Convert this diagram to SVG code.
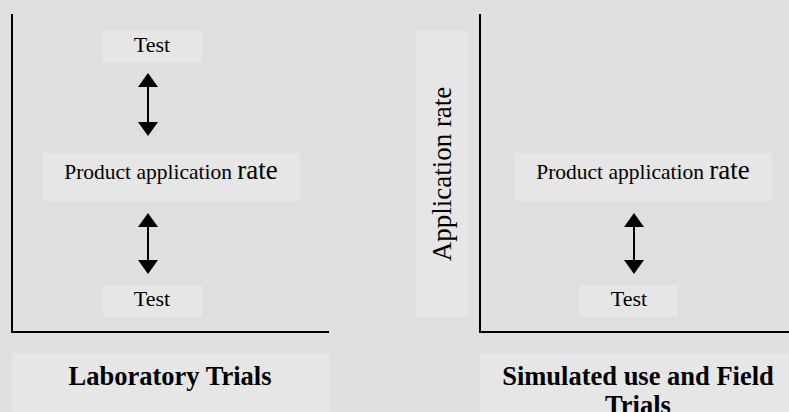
<svg xmlns="http://www.w3.org/2000/svg" width="789" height="412" viewBox="0 0 789 412">
<defs>
<style>
.bg{fill:#dfdfdf}
.box{fill:#e6e6e6}
.t{font-family:"Liberation Serif","Times New Roman",serif;fill:#000;text-anchor:middle}
.reg{font-size:22px}
.prod{font-size:21.5px}
.big{font-size:27px}
.bold{font-size:26.5px;font-weight:bold}
.axis{stroke:#000;stroke-width:2;fill:none}
.conn{stroke:#000;stroke-width:2}
</style>
</defs>
<rect class="bg" x="0" y="0" width="789" height="412"/>
<g id="axes">
<path class="axis" d="M12,14 V332 H329"/>
<path class="axis" d="M480,14 V332 H789"/>
</g>
<g id="left-test-top">
<rect class="box" x="103" y="31" width="99" height="32"/>
<text class="t reg" x="152" y="52">Test</text>
</g>
<g id="left-product">
<rect class="box" x="43" y="153" width="257" height="48"/>
<text class="t" x="171" y="179"><tspan class="prod">Product application </tspan><tspan class="big">rate</tspan></text>
</g>
<g id="left-test-bottom">
<rect class="box" x="103" y="285" width="99" height="32"/>
<text class="t reg" x="152" y="306">Test</text>
</g>
<g id="left-title">
<rect class="box" x="12" y="353" width="317" height="59"/>
<text class="t bold" x="170" y="385">Laboratory Trials</text>
</g>
<g id="y-label">
<rect class="box" x="416" y="31" width="52" height="286"/>
<text class="t" style="font-size:27px" transform="translate(451,174) rotate(-90)" x="0" y="0">Application rate</text>
</g>
<g id="right-product">
<rect class="box" x="514" y="153" width="258" height="48"/>
<text class="t" x="643" y="179"><tspan class="prod">Product application </tspan><tspan class="big">rate</tspan></text>
</g>
<g id="right-test">
<rect class="box" x="579" y="285" width="99" height="32"/>
<text class="t reg" x="629" y="306">Test</text>
</g>
<g id="right-title">
<rect class="box" x="480" y="353" width="309" height="59"/>
<text class="t bold" x="638" y="385">Simulated use and Field</text>
<text class="t bold" x="638" y="414">Trials</text>
</g>
<g id="connectors">
<g>
<polygon points="148,73 158,87 138,87"/>
<line class="conn" x1="148" y1="86" x2="148" y2="123"/>
<polygon points="148,136 158,122 138,122"/>
</g>
<g>
<polygon points="148,213 158,227 138,227"/>
<line class="conn" x1="148" y1="226" x2="148" y2="261"/>
<polygon points="148,274 158,260 138,260"/>
</g>
<g>
<polygon points="634,213 644,227 624,227"/>
<line class="conn" x1="634" y1="226" x2="634" y2="261"/>
<polygon points="634,274 644,260 624,260"/>
</g>
</g>
</svg>
